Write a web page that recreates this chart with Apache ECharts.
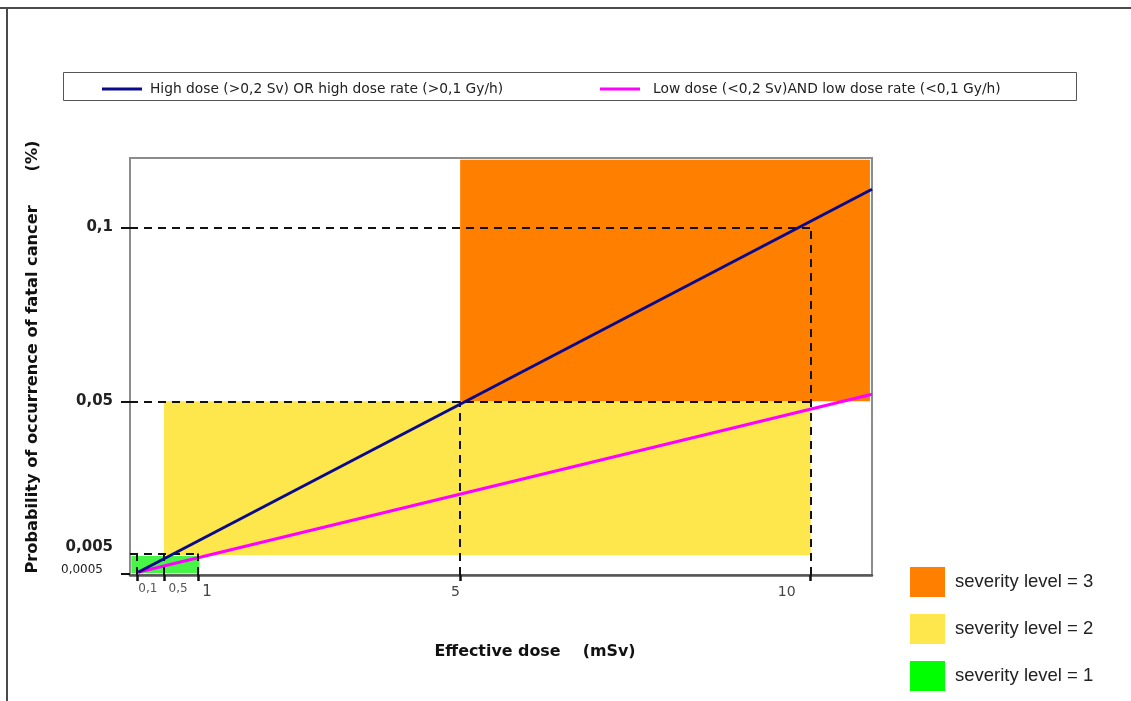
<!DOCTYPE html>
<html>
<head>
<meta charset="utf-8">
<script src="https://cdn.jsdelivr.net/npm/echarts@6/dist/echarts.min.js"></script>
<style>html,body{margin:0;padding:0;background:#fff}#c{width:1131px;height:701px}</style>
</head>
<body>
<div id="c"></div>
<script>
// ---- data ----
const doseTicks = [0.1, 0.5, 1, 5, 10];            // x tick labels (mSv)
const probTicks = [0.0005, 0.005, 0.05, 0.1];      // y tick labels (%)
const lineNames = ['High dose (>0,2 Sv) OR high dose rate (>0,1 Gy/h)', 'Low dose (<0,2 Sv)AND low dose rate (<0,1 Gy/h)'];
const highDose = [[0.12, 0.0008], [10.9, 0.111]];
const lowDose  = [[0.12, 0.0008], [10.9, 0.052]];
const severityNames = ['severity level = 3', 'severity level = 2', 'severity level = 1'];
const severity3 = [[4.85, 0.05], [10.87, 0.1195]];
const severity2 = [[0.5, 0.0057], [10, 0.05]];
const severity1 = [[0.02, 0.0005], [1.02, 0.0055]];
const guideH = [[0.1, 0, 10], [0.05, 0, 10], [0.0062, 0, 1]];            // [y, x0, x1]
const guideV = [[10, 0, 0.1], [4.85, 0, 0.05], [0.1, 0, 0.0062], [0.5, 0, 0.0062], [1, 0, 0.0062]]; // [x, y0, y1]
const guideTicks = [0.1, 0.5, 1, 4.85, 10];

const FONT = 'DejaVu Sans';
const chart = echarts.init(document.getElementById('c'), null, {renderer: 'canvas'});

const dashed = [];
guideH.forEach(g => dashed.push([{coord: [g[1], g[0]]}, {coord: [g[2], g[0]]}]));
guideV.forEach(g => dashed.push([{coord: [g[0], g[1]]}, {coord: [g[0], g[2]]}]));

const xShift = {0.1: 'a', 0.5: 'b', 1: 'c', 5: 'd', 10: 'e'};

chart.setOption({
  animation: false,
  backgroundColor: '#fff',
  grid: {left: 130, top: 158, width: 742, height: 417, show: true, borderColor: '#8c8c8c', borderWidth: 2, containLabel: false, outerBoundsMode: 'none'},
  xAxis: {
    type: 'value', min: 0, max: 10.9,
    splitLine: {show: false},
    axisLine: {show: true, lineStyle: {color: '#555', width: 2.5}},
    axisTick: {show: true, customValues: guideTicks, length: 6, lineStyle: {color: '#111', width: 2.5}},
    axisLabel: {
      customValues: doseTicks, margin: 8,
      formatter: v => '{' + xShift[v] + '|' + String(v).replace('.', ',') + '}',
      rich: {
        a: {fontFamily: FONT, fontSize: 12, color: '#555', padding: [0, 0, 0, 22]},
        b: {fontFamily: FONT, fontSize: 12, color: '#555', padding: [0, 0, 0, 28]},
        c: {fontFamily: FONT, fontSize: 15, color: '#444', padding: [2, 0, 0, 18]},
        d: {fontFamily: FONT, fontSize: 14, color: '#444', padding: [2, 30, 0, 0]},
        e: {fontFamily: FONT, fontSize: 14, color: '#444', padding: [2, 48, 0, 0]}
      }
    }
  },
  yAxis: {
    type: 'value', min: 0, max: 0.12,
    splitLine: {show: false},
    axisLine: {show: false},
    axisTick: {show: true, customValues: [0.0005, 0.05, 0.1], length: 9, lineStyle: {color: '#111', width: 2}},
    axisLabel: {
      customValues: probTicks, margin: 17,
      formatter: v => {
        const s = String(v).replace('.', ',');
        if (v === 0.0005) return '{s|' + s + '}';
        if (v === 0.005) return '{u|' + s + '}';
        return '{b|' + s + '}';
      },
      rich: {
        s: {fontFamily: FONT, fontSize: 12, color: '#222', padding: [0, 10, 6, 0]},
        u: {fontFamily: FONT, fontSize: 15, fontWeight: 'bold', color: '#222', padding: [0, 0, 22, 0]},
        b: {fontFamily: FONT, fontSize: 15, fontWeight: 'bold', color: '#222'}
      }
    }
  },
  legend: [
    {data: [lineNames[0]], left: 97, top: 77, icon: 'rect', itemWidth: 40, itemHeight: 3,
     textStyle: {fontFamily: FONT, fontSize: 13.8, color: '#222', padding: [0, 0, 0, 3]}},
    {data: [lineNames[1]], left: 595, top: 77, icon: 'rect', itemWidth: 40, itemHeight: 3,
     textStyle: {fontFamily: FONT, fontSize: 13.8, color: '#222', padding: [0, 0, 0, 8]}},
    {data: severityNames, orient: 'vertical', left: 905, top: 562, icon: 'rect', itemWidth: 35, itemHeight: 30, itemGap: 17,
     textStyle: {fontFamily: 'Liberation Sans', fontSize: 18.5, color: '#222', padding: [0, 0, 0, 5]}}
  ],
  graphic: [
    {type: 'line', shape: {x1: 0, y1: 8, x2: 1131, y2: 8}, style: {stroke: '#4a4a4a', lineWidth: 2}},
    {type: 'line', shape: {x1: 7, y1: 8, x2: 7, y2: 701}, style: {stroke: '#4a4a4a', lineWidth: 2}},
    {type: 'rect', shape: {x: 63.5, y: 72.5, width: 1013, height: 28}, style: {fill: 'none', stroke: '#555', lineWidth: 1}},
    {type: 'text', x: 535, y: 652, style: {text: 'Effective dose    (mSv)', fontFamily: FONT, fontSize: 15.9, fontWeight: 'bold', fill: '#111', align: 'center', verticalAlign: 'middle'}},
    {type: 'text', x: 33, y: 357, rotation: Math.PI / 2, style: {text: 'Probability of occurrence of fatal cancer      (%)', fontFamily: FONT, fontSize: 16.2, fontWeight: 'bold', fill: '#111', align: 'center', verticalAlign: 'middle'}}
  ],
  series: [
    {name: severityNames[0], type: 'line', data: [], color: '#ff7f00', z: 1,
     markArea: {silent: true, itemStyle: {color: '#ff7f00', opacity: 1}, data: [[{coord: severity3[0]}, {coord: severity3[1]}]]}},
    {name: severityNames[1], type: 'line', data: [], color: '#fde74c', z: 1,
     markArea: {silent: true, itemStyle: {color: '#fde74c', opacity: 1}, data: [[{coord: severity2[0]}, {coord: severity2[1]}]]}},
    {name: severityNames[2], type: 'line', data: [], color: '#00ff00', z: 1,
     markArea: {silent: true, itemStyle: {color: '#47f547', opacity: 1}, data: [[{coord: severity1[0]}, {coord: severity1[1]}]]}},
    {name: 'guides', type: 'line', data: [], z: 2,
     markLine: {silent: true, symbol: 'none', label: {show: false},
       lineStyle: {color: '#111', width: 2, type: [8, 6]}, data: dashed}},
    {name: lineNames[0], type: 'line', data: highDose, color: '#0a0a8c', showSymbol: false, z: 5,
     lineStyle: {color: '#0a0a8c', width: 3}},
    {name: lineNames[1], type: 'line', data: lowDose, color: '#ff00ff', showSymbol: false, z: 4,
     lineStyle: {color: '#ff00ff', width: 3}}
  ]
});
</script>
</body>
</html>
